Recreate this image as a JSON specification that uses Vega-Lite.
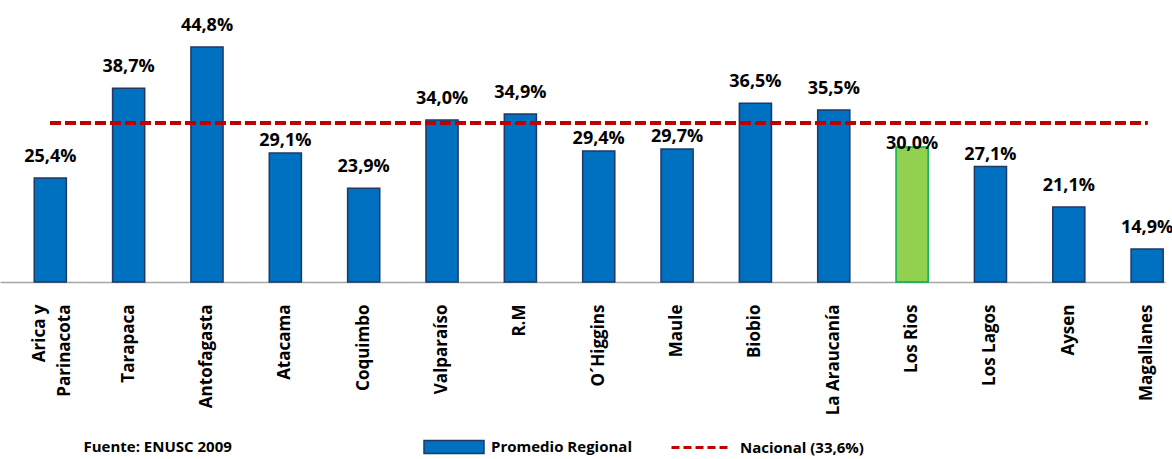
{
  "$schema": "https://vega.github.io/schema/vega-lite/v6.json",
  "width": 1165,
  "height": 270,
  "autosize": {"type": "none"},
  "padding": {"top": 12, "left": 0, "right": 7, "bottom": 177},
  "config": {
    "view": {"stroke": null},
    "font": "Open Sans",
    "locale": {"number": {"decimal": ",", "thousands": ".", "grouping": [3], "currency": ["", ""]}}
  },
  "data": {
    "values": [
      {"region": "Arica y Parinacota", "valor": 0.254, "serie": "Promedio Regional"},
      {"region": "Tarapaca", "valor": 0.387, "serie": "Promedio Regional"},
      {"region": "Antofagasta", "valor": 0.448, "serie": "Promedio Regional"},
      {"region": "Atacama", "valor": 0.291, "serie": "Promedio Regional"},
      {"region": "Coquimbo", "valor": 0.239, "serie": "Promedio Regional"},
      {"region": "Valparaíso", "valor": 0.340, "serie": "Promedio Regional"},
      {"region": "R.M", "valor": 0.349, "serie": "Promedio Regional"},
      {"region": "O´Higgins", "valor": 0.294, "serie": "Promedio Regional"},
      {"region": "Maule", "valor": 0.297, "serie": "Promedio Regional"},
      {"region": "Biobio", "valor": 0.365, "serie": "Promedio Regional"},
      {"region": "La Araucanía", "valor": 0.355, "serie": "Promedio Regional"},
      {"region": "Los Rios", "valor": 0.300, "serie": "Promedio Regional"},
      {"region": "Los Lagos", "valor": 0.271, "serie": "Promedio Regional"},
      {"region": "Aysen", "valor": 0.211, "serie": "Promedio Regional"},
      {"region": "Magallanes", "valor": 0.149, "serie": "Promedio Regional"}
    ]
  },
  "encoding": {
    "x": {
      "field": "region",
      "type": "nominal",
      "sort": null,
      "scale": {"paddingInner": 0.59, "paddingOuter": 0.23, "align": 0.95},
      "axis": {
        "title": "Fuente: ENUSC 2009",
        "titleFont": "Open Sans",
        "titleFontSize": 15,
        "titleFontWeight": "bold",
        "titleColor": "#000000",
        "titleAnchor": "start",
        "titleAlign": "left",
        "titleBaseline": "top",
        "titleX": 83,
        "titleY": 157,
        "domainColor": "#A6A6A6",
        "domainWidth": 1.5,
        "ticks": false,
        "labelAngle": 270,
        "labelPadding": 22,
        "labelOffset": {"condition": {"test": "datum.label == 'Arica y Parinacota'", "value": -10}, "value": 0},
        "labelFont": "Open Sans",
        "labelFontSize": 17,
        "labelFontWeight": "bold",
        "labelColor": "#000000",
        "labelLineHeight": 25,
        "labelOverlap": false,
        "labelLimit": 300,
        "labelExpr": "datum.label == 'Arica y Parinacota' ? ['Arica y', 'Parinacota'] : datum.label"
      }
    }
  },
  "layer": [
    {
      "mark": {"type": "bar", "strokeWidth": 1.5},
      "encoding": {
        "y": {"field": "valor", "type": "quantitative", "scale": {"domain": [0.1, 0.5], "zero": false}, "axis": null},
        "y2": {"datum": 0.1},
        "fill": {
          "condition": {"test": "datum.region == 'Los Rios'", "value": "#92D050"},
          "field": "serie",
          "type": "nominal",
          "scale": {"domain": ["Promedio Regional"], "range": ["#0070C0"]},
          "legend": {
            "orient": "none",
            "legendX": 423,
            "legendY": 404,
            "direction": "horizontal",
            "title": null,
            "symbolType": "M-1,-0.22H1V0.22H-1Z",
            "symbolSize": 3600,
            "symbolStrokeColor": "#1F3864",
            "symbolStrokeWidth": 1.5,
            "symbolOpacity": 1,
            "labelFont": "Open Sans",
            "labelFontSize": 15,
            "labelFontWeight": "bold",
            "labelColor": "#000000",
            "labelOffset": 6
          }
        },
        "stroke": {
          "condition": {"test": "datum.region == 'Los Rios'", "value": "#00B050"},
          "value": "#1F3864"
        }
      }
    },
    {
      "mark": {"type": "rule", "strokeWidth": 3.5, "strokeDash": [10, 5]},
      "encoding": {
        "x": {"datum": "Arica y Parinacota"},
        "x2": {"datum": "Magallanes"},
        "y": {"datum": 0.336},
        "stroke": {
          "datum": "Nacional (33,6%)",
          "scale": {"domain": ["Nacional (33,6%)"], "range": ["#C00000"]},
          "legend": {
            "orient": "none",
            "legendX": 670,
            "legendY": 404,
            "direction": "horizontal",
            "title": null,
            "symbolType": "stroke",
            "symbolSize": 3600,
            "symbolStrokeWidth": 3,
            "symbolDash": [8, 4],
            "labelFont": "Open Sans",
            "labelFontSize": 15,
            "labelFontWeight": "bold",
            "labelColor": "#000000",
            "labelOffset": 7
          }
        }
      }
    },
    {
      "transform": [{"filter": {"not": {"field": "region", "oneOf": ["Los Rios", "Atacama", "O´Higgins", "Maule", "Los Lagos"]}}}],
      "mark": {"type": "text", "font": "Open Sans", "fontSize": 18, "fontWeight": "bold", "color": "#000000", "baseline": "alphabetic", "dy": -16},
      "encoding": {
        "y": {"field": "valor", "type": "quantitative"},
        "text": {"field": "valor", "type": "quantitative", "format": ".1%"}
      }
    },
    {
      "transform": [{"filter": {"field": "region", "oneOf": ["Atacama", "O´Higgins", "Maule", "Los Lagos"]}}],
      "mark": {"type": "text", "font": "Open Sans", "fontSize": 18, "fontWeight": "bold", "color": "#000000", "baseline": "alphabetic", "dy": -7},
      "encoding": {
        "y": {"field": "valor", "type": "quantitative"},
        "text": {"field": "valor", "type": "quantitative", "format": ".1%"}
      }
    },
    {
      "transform": [{"filter": "datum.region == 'Los Rios'"}],
      "mark": {"type": "text", "font": "Open Sans", "fontSize": 18, "fontWeight": "bold", "color": "#000000", "baseline": "alphabetic", "dy": 2},
      "encoding": {
        "y": {"field": "valor", "type": "quantitative"},
        "text": {"field": "valor", "type": "quantitative", "format": ".1%"}
      }
    }
  ]
}
